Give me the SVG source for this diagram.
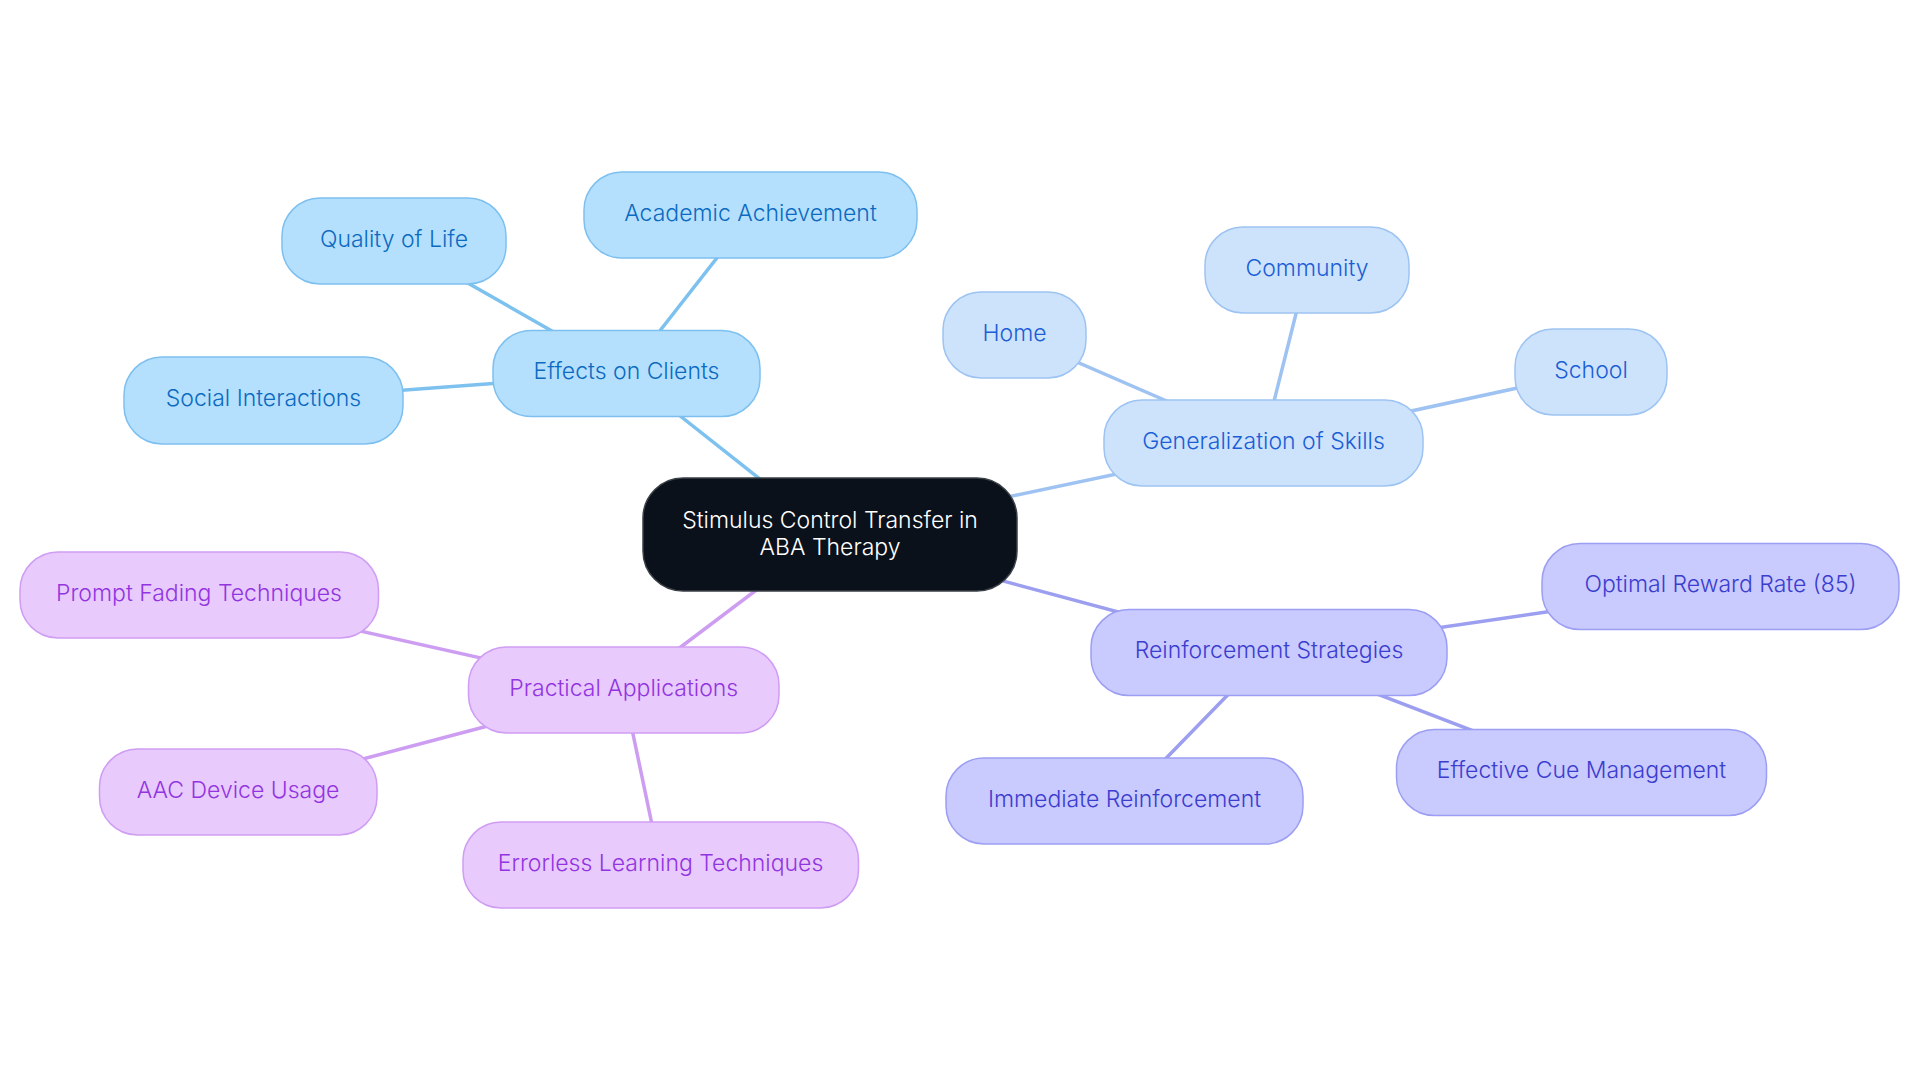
<svg xmlns="http://www.w3.org/2000/svg" width="1920" height="1083" viewBox="0 0 1920 1083">
<style>
text{font-family:Inter,"Noto Sans","Liberation Sans",sans-serif;font-size:23px;font-weight:350;text-anchor:middle}
.e line{stroke-width:3.5;stroke-linecap:round}
.c1 rect{fill:#B5E0FD;stroke:#7DC0F0;stroke-width:1.5}
.c1 text{fill:#0C6AC1}
.c2 rect{fill:#CDE3FB;stroke:#9DC3F2;stroke-width:1.5}
.c2 text{fill:#1B5ED6}
.c3 rect{fill:#C9CAFD;stroke:#9C9EF3;stroke-width:1.5}
.c3 text{fill:#3B3DCF}
.c4 rect{fill:#E8CAFD;stroke:#CF9DF3;stroke-width:1.5}
.c4 text{fill:#9235E0}
</style>
<rect width="1920" height="1083" fill="#ffffff"/>
<g id="connectors" class="e">
<g stroke="#7DC1EF">
<line x1="830" y1="534.5" x2="626.5" y2="373.5"/>
<line x1="626.5" y1="373.5" x2="750.5" y2="215"/>
<line x1="626.5" y1="373.5" x2="394" y2="241"/>
<line x1="626.5" y1="373.5" x2="263.5" y2="400.5"/>
</g>
<g stroke="#9EC3F2">
<line x1="830" y1="534.5" x2="1263.5" y2="443"/>
<line x1="1263.5" y1="443" x2="1014.5" y2="335"/>
<line x1="1263.5" y1="443" x2="1307" y2="270"/>
<line x1="1263.5" y1="443" x2="1591" y2="372"/>
</g>
<g stroke="#9C9EF0">
<line x1="830" y1="534.5" x2="1269" y2="652.5"/>
<line x1="1269" y1="652.5" x2="1720.5" y2="586.5"/>
<line x1="1269" y1="652.5" x2="1581.5" y2="772.5"/>
<line x1="1269" y1="652.5" x2="1124.5" y2="801"/>
</g>
<g stroke="#CD9DF2">
<line x1="830" y1="534.5" x2="623.75" y2="690"/>
<line x1="623.75" y1="690" x2="199" y2="595"/>
<line x1="623.75" y1="690" x2="238" y2="792"/>
<line x1="623.75" y1="690" x2="660.5" y2="865"/>
</g>
</g>
<g id="root">
<rect x="643" y="478" width="374" height="113" rx="40" fill="#0B111A" stroke="#3B4048" stroke-width="1.5"/>
<text x="830" y="527.5" fill="#ffffff" font-size="22.5">Stimulus Control Transfer in</text>
<text x="830" y="554.5" fill="#ffffff" font-size="22.5">ABA Therapy</text>
</g>
<g id="effects" class="c1"><rect x="493" y="330.5" width="267" height="86" rx="38"/><text x="626.5" y="379">Effects on Clients</text></g>
<g id="academic" class="c1"><rect x="584" y="172" width="333" height="86" rx="38"/><text x="750.5" y="220.5">Academic Achievement</text></g>
<g id="quality" class="c1"><rect x="282" y="198" width="224" height="86" rx="38"/><text x="394" y="246.5">Quality of Life</text></g>
<g id="social" class="c1"><rect x="124" y="357" width="279" height="87" rx="38"/><text x="263.5" y="406">Social Interactions</text></g>
<g id="generalization" class="c2"><rect x="1104" y="400" width="319" height="86" rx="38"/><text x="1263.5" y="448.5">Generalization of Skills</text></g>
<g id="home" class="c2"><rect x="943" y="292" width="143" height="86" rx="38"/><text x="1014.5" y="340.5">Home</text></g>
<g id="community" class="c2"><rect x="1205" y="227" width="204" height="86" rx="38"/><text x="1307" y="275.5">Community</text></g>
<g id="school" class="c2"><rect x="1515" y="329" width="152" height="86" rx="38"/><text x="1591" y="377.5">School</text></g>
<g id="reinforcement" class="c3"><rect x="1091" y="609.5" width="356" height="86" rx="38"/><text x="1269" y="658">Reinforcement Strategies</text></g>
<g id="optimal" class="c3"><rect x="1542" y="543.5" width="357" height="86" rx="38"/><text x="1720.5" y="592">Optimal Reward Rate (85)</text></g>
<g id="cue" class="c3"><rect x="1396.5" y="729.5" width="370" height="86" rx="38"/><text x="1581.5" y="778">Effective Cue Management</text></g>
<g id="immediate" class="c3"><rect x="946" y="758" width="357" height="86" rx="38"/><text x="1124.5" y="806.5">Immediate Reinforcement</text></g>
<g id="practical" class="c4"><rect x="468.5" y="647" width="310.5" height="86" rx="38"/><text x="623.75" y="695.5">Practical Applications</text></g>
<g id="prompt" class="c4"><rect x="20" y="552" width="358.5" height="86" rx="38"/><text x="199" y="600.5">Prompt Fading Techniques</text></g>
<g id="aac" class="c4"><rect x="99.5" y="749" width="277.5" height="86" rx="38"/><text x="238" y="797.5">AAC Device Usage</text></g>
<g id="errorless" class="c4"><rect x="463" y="822" width="395.5" height="86" rx="38"/><text x="660.5" y="870.5">Errorless Learning Techniques</text></g>
</svg>
